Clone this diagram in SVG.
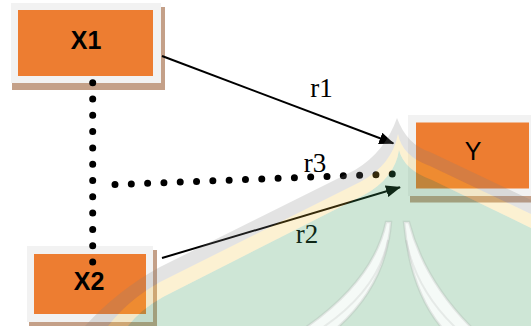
<svg xmlns="http://www.w3.org/2000/svg" width="531" height="326" viewBox="0 0 531 326">
  <style>
    .frame { fill: #f2f2f2; }
    .shadow { fill: #c4a088; }
    .core { fill: #ed7d31; }
    .nlabel { font-family: "Liberation Sans", Arial, sans-serif; font-size: 25px; fill: #000; text-anchor: middle; }
    .bold { font-weight: bold; }
    .elabel { font-family: "Liberation Serif", "Times New Roman", serif; font-size: 27px; fill: #000; text-anchor: middle; }
    .arrow { stroke: #000; stroke-width: 2; fill: none; marker-end: url(#head); }
    .dots { stroke: #000; stroke-width: 7; stroke-linecap: round; fill: none; }
    .leaf { fill: #fff; fill-opacity: 0.8; stroke: #a0a0a0; stroke-opacity: 0.22; stroke-width: 2.5; }
  </style>
  <defs>
    <marker id="head" markerUnits="userSpaceOnUse" markerWidth="16" markerHeight="14" refX="14" refY="6" orient="auto">
      <path d="M0,0 L15,6 L0,12 Z" fill="#000"/>
    </marker>
  </defs>
  <rect width="531" height="326" fill="#fff"/>

  <g id="node-X1">
    <rect class="shadow" x="12" y="7" width="153" height="83"/>
    <rect class="frame" x="11" y="3" width="150" height="80"/>
    <rect class="core" x="18" y="10" width="135" height="66"/>
    <text class="nlabel bold" x="86" y="48.5">X1</text>
  </g>

  <g id="node-X2">
    <rect class="shadow" x="29" y="250" width="128" height="76"/>
    <rect class="frame" x="27" y="246" width="126" height="76"/>
    <rect class="core" x="34" y="254" width="112" height="60"/>
    <text class="nlabel bold" x="89" y="290">X2</text>
  </g>

  <g id="node-Y">
    <rect class="shadow" x="410" y="122" width="130" height="80.5"/>
    <rect class="frame" x="408" y="115" width="130" height="81"/>
    <rect class="core" x="416" y="122.5" width="113" height="66"/>
    <text class="nlabel" x="473" y="160">Y</text>
  </g>

  <g id="connectors">
    <line class="dots" x1="92.7" y1="82.7" x2="92.7" y2="262" stroke-dasharray="0 16.3"/>
    <line class="dots" x1="115" y1="184.6" x2="392.3" y2="174" stroke-dasharray="0 16.32"/>
    <line class="arrow" x1="162" y1="56" x2="393.3" y2="143.3"/>
    <line class="arrow" x1="162" y1="258" x2="400" y2="187.3"/>
  </g>

  <g id="edge-labels">
    <text class="elabel" x="321.5" y="96.7">r1</text>
    <text class="elabel" x="315" y="171.5">r3</text>
    <text class="elabel" x="307" y="243.3">r2</text>
  </g>

  <g id="watermark" pointer-events="none">
    <path d="M128,326 Q140,310 163,297 L364,195 Q395,178 399,150 Q404,170 432,180 L531,228 L531,326 Z" fill="#3a9a5a" fill-opacity="0.25"/>
    <path d="M108,326 Q128,300 160,282 L360,182 Q392,165 398,134 Q402,156 430,166 L531,214 L531,228 L432,180 Q404,170 399,150 Q395,178 364,195 L163,297 Q140,310 128,326 Z" fill="#f0c030" fill-opacity="0.22"/>
    <path d="M85,326 Q118,290 160,267 L355,170 Q385,152 397,118 Q407,145 430,152 L531,200 L531,214 L430,166 Q402,156 398,134 Q392,165 360,182 L160,282 Q128,300 108,326 Z" fill="#808080" fill-opacity="0.22"/>
    <path class="leaf" d="M386,222 Q374,280 305,328 L337,328 Q386,285 391,222 Z"/>
    <path class="leaf" d="M404,222 Q410,290 442,328 L472,328 Q424,280 409,222 Z"/>
    <path d="M388,240 Q378,290 322,328 M406,240 Q416,290 456,328" fill="none" stroke="#a0a0a0" stroke-opacity="0.18" stroke-width="2"/>
  </g>
</svg>
